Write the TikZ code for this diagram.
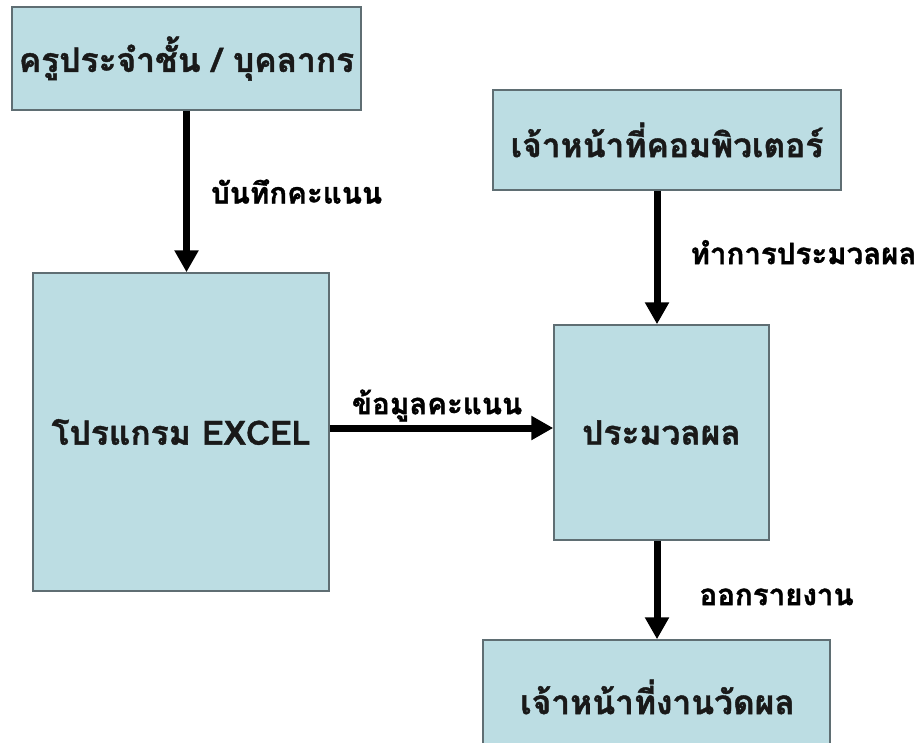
\documentclass[tikz,border=0pt]{standalone}
\usepackage{fontspec}
\newfontfamily\thaifont[Script=Thai, BoldFeatures={FakeBold=1.2}]{Loma}
\usetikzlibrary{calc}
\usetikzlibrary{arrows.meta}
\definecolor{boxfill}{RGB}{188,221,227}
\definecolor{boxline}{RGB}{95,110,115}
\tikzset{
	box/.style={draw=boxline, line width=1.5pt, fill=boxfill, inner sep=0pt,
		text=black!90, font=\thaifont\bfseries\fontsize{33.5}{38}\selectfont},
	flow/.style={line width=7pt, -{Triangle[width=23pt,length=22pt]}},
	lbl/.style={font=\thaifont\bfseries\fontsize{29.5}{33}\selectfont, inner sep=0pt}
}

\begin{document}
\begin{tikzpicture}[x=1pt,y=-1pt]
		\useasboundingbox (0,0) rectangle (921,742);
%		boxes
		\node[box, minimum width=349pt, minimum height=103pt] (teacher)
		at (186.5,58.5) {ครูประจำชั้น / บุคลากร};
		\node[box, minimum width=296pt, minimum height=318pt] (excel)
		at (181,432) {โปรแกรม EXCEL};
		\node[box, minimum width=348pt, minimum height=100pt] (staff)
		at (667,140) {เจ้าหน้าที่คอมพิวเตอร์};
		\node[box, minimum width=215pt, minimum height=215pt] (process)
		at (661.5,432.5) {ประมวลผล};
		\node[box, minimum width=347pt, minimum height=110pt] (eval)
		at (656.5,695) {};
		\node[box, draw=none, fill=none] (evaltext) at (657.5,697) {เจ้าหน้าที่งานวัดผล};
		\coordinate (col) at (657,0);

%		teacher to excel
		\draw[flow] (teacher.south) --
		node [lbl, anchor=west, xshift=21pt, pos=0.5] {บันทึกคะแนน}
		(teacher.south |- excel.north);
%		excel to process
		\draw[flow] (excel.east |- 0,428) --
		node [lbl, anchor=south, yshift=3pt, pos=0.48] {ข้อมูลคะแนน}
		(process.west |- 0,428);
%		staff to process
		\draw[flow] (staff.south -| col) --
		node [lbl, anchor=west, xshift=30pt, pos=0.46] {ทำการประมวลผล}
		(process.north -| col);
%		process to eval
		\draw[flow] (process.south -| col) --
		node [lbl, anchor=west, xshift=39pt, pos=0.57] {ออกรายงาน}
		(eval.north -| col);
	\end{tikzpicture}
\end{document}
